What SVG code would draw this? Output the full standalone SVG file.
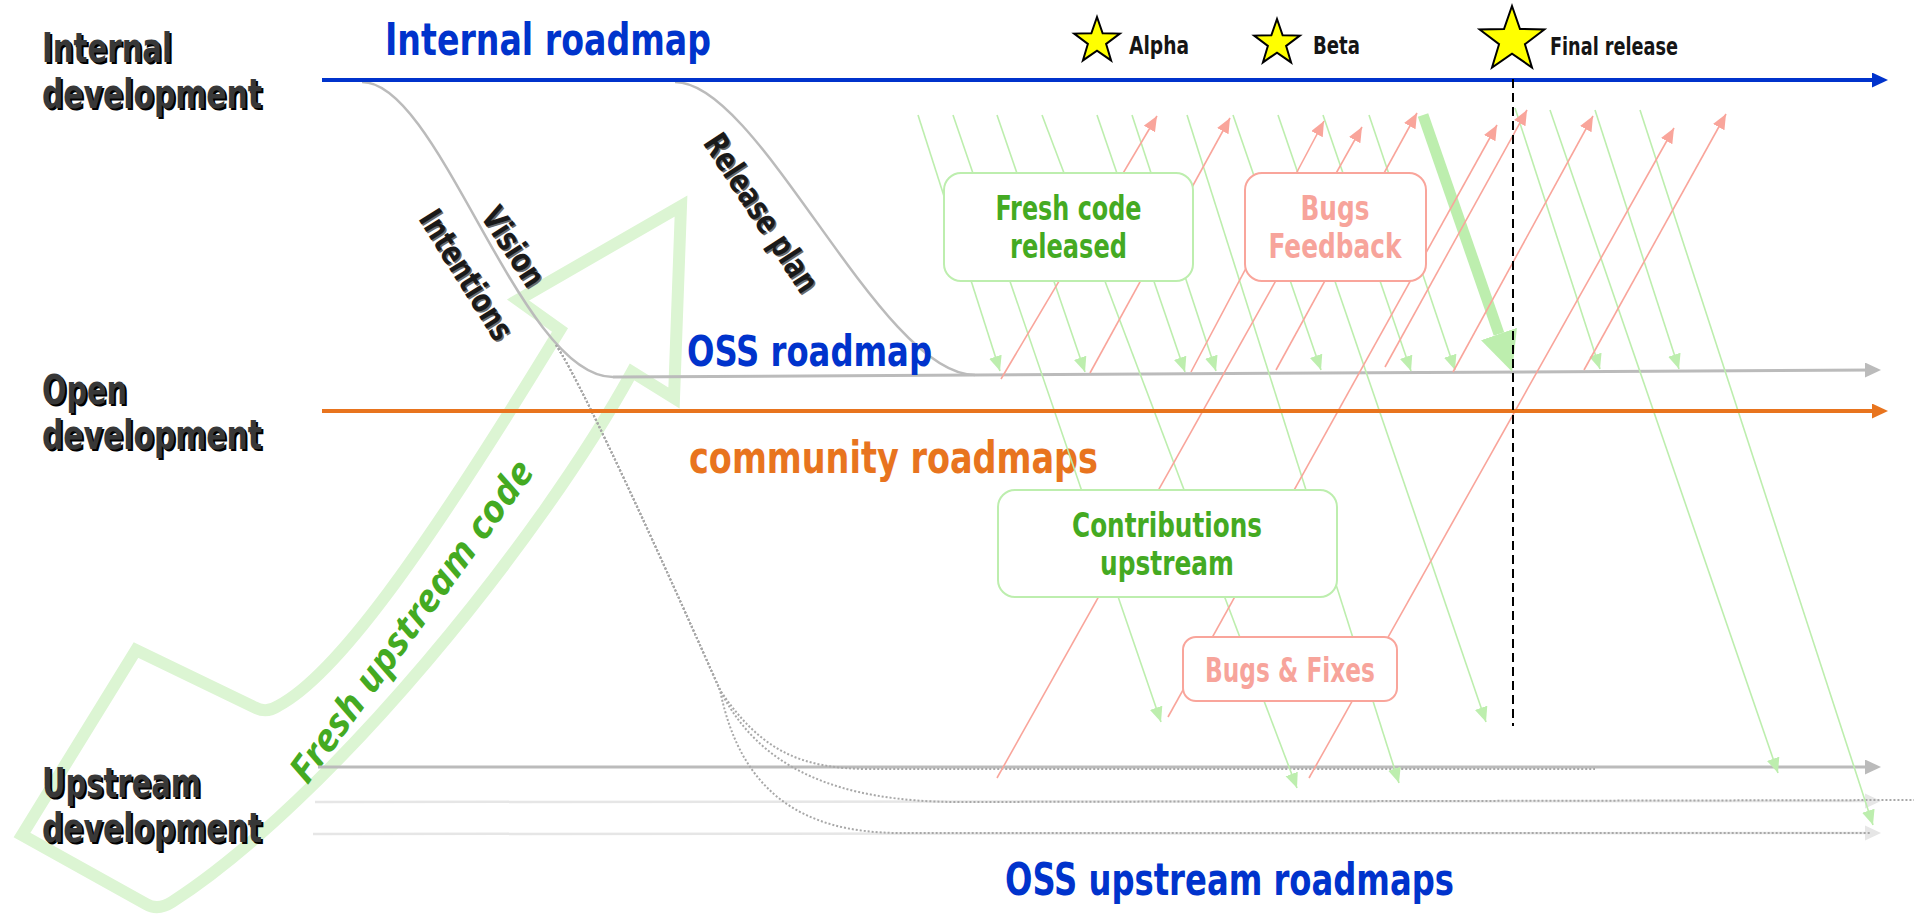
<svg xmlns="http://www.w3.org/2000/svg" xmlns:xlink="http://www.w3.org/1999/xlink" width="1914" height="921" viewBox="0 0 1914 921">
<style>
.cond{font-family:'Liberation Sans Narrow','DejaVu Sans Condensed','Roboto Condensed','Noto Sans',sans-serif;font-weight:bold;font-stretch:condensed}
.lab{font-size:40px;fill:#383838}
.labsh{font-size:40px;fill:#000}
.rot{font-size:33px;fill:#1a1a1a;text-anchor:middle}
.rotsh{font-size:33px;fill:#6a6a6a;text-anchor:middle}
.blue{fill:#0033cc}
.orange{fill:#e8741e}
.big{font-size:44px}
.slbl{font-size:24px;fill:#151515}
.boxg{fill:#fff;stroke:#bdeeae;stroke-width:2}
.boxr{fill:#fff;stroke:#f9a59b;stroke-width:2}
.tg{font-size:33px;fill:#44aa22;text-anchor:middle}
.tr{font-size:33px;fill:#f7a49b;text-anchor:middle}
.g{stroke:#bdeeae;stroke-width:1.6;fill:none}
.r{stroke:#f9a59b;stroke-width:1.6;fill:none}
.gc{stroke:#bbbbbb;stroke-width:2.5;fill:none}
.gl{stroke:#bbbbbb;stroke-width:3;fill:none}
.ll{stroke:#e6e6e6;stroke-width:2.5;fill:none}
.dot{stroke:#a8a8a8;stroke-width:2;stroke-dasharray:2 2;fill:none}
.outline{fill:none;stroke:#dcf5d3;stroke-width:12;stroke-linejoin:miter;stroke-miterlimit:10}
.fuc{font-family:'Noto Sans','Open Sans','DejaVu Sans',sans-serif;font-weight:bold;font-style:italic;font-size:37px;fill:#44aa22;text-anchor:middle}
</style>
<defs>
<path id="star" d="M0,-10 L2.351,-3.236 L9.511,-3.090 L3.804,1.236 L5.878,8.090 L0,4 L-5.878,8.090 L-3.804,1.236 L-9.511,-3.090 L-2.351,-3.236 Z" fill="#ffff00" stroke="#000" stroke-width="2" vector-effect="non-scaling-stroke" stroke-linejoin="miter"/>
<marker id="ahg" markerUnits="userSpaceOnUse" markerWidth="16" markerHeight="14" refX="15" refY="6.5" orient="auto"><path d="M0,0 L15,6.5 L0,13 Z" fill="#bdeeae"/></marker>
<marker id="ahr" markerUnits="userSpaceOnUse" markerWidth="16" markerHeight="14" refX="15" refY="6.5" orient="auto"><path d="M0,0 L15,6.5 L0,13 Z" fill="#f9a59b"/></marker>
<marker id="ahthick" markerUnits="userSpaceOnUse" markerWidth="42" markerHeight="40" refX="0" refY="19" orient="auto"><path d="M0,0 L40,19 L0,38 Z" fill="#bdeeae"/></marker>
<marker id="ahblue" markerUnits="userSpaceOnUse" markerWidth="17" markerHeight="16" refX="8" refY="7.5" orient="auto"><path d="M0,0 L16,7.5 L0,15 Z" fill="#0033cc"/></marker>
<marker id="ahorange" markerUnits="userSpaceOnUse" markerWidth="17" markerHeight="16" refX="8" refY="7.5" orient="auto"><path d="M0,0 L16,7.5 L0,15 Z" fill="#e8741e"/></marker>
<marker id="ahgray" markerUnits="userSpaceOnUse" markerWidth="17" markerHeight="16" refX="8" refY="7.5" orient="auto"><path d="M0,0 L16,7.5 L0,15 Z" fill="#bbbbbb"/></marker>
<marker id="ahlight" markerUnits="userSpaceOnUse" markerWidth="17" markerHeight="16" refX="8" refY="7.5" orient="auto"><path d="M0,0 L16,7.5 L0,15 Z" fill="#e6e6e6"/></marker>
</defs>

<rect width="1914" height="921" fill="#fff"/>

<!-- big green outline arrow -->
<g id="fresh-upstream-arrow">
<path class="outline" d="M560,330 L518,300 L681,206 L674,398 L632,372 C540,540 330,800 172,902 Q158,911 146,904 L22,835 L136,650 L254,707 Q266,714 278,706 C335,676 420,560 560,330 Z"/>
<text class="fuc" transform="translate(411,621) rotate(-54)" x="0" y="13" textLength="388" lengthAdjust="spacingAndGlyphs">Fresh upstream code</text>
</g>

<!-- lane labels -->
<g id="lane-internal" class="cond">
<text class="labsh" x="44" y="64" textLength="130" lengthAdjust="spacingAndGlyphs">Internal</text>
<text class="lab" x="42" y="62" textLength="130" lengthAdjust="spacingAndGlyphs">Internal</text>
<text class="labsh" x="44" y="110" textLength="220" lengthAdjust="spacingAndGlyphs">development</text>
<text class="lab" x="42" y="108" textLength="220" lengthAdjust="spacingAndGlyphs">development</text>
</g>
<g id="lane-open" class="cond">
<text class="labsh" x="44" y="406" textLength="85" lengthAdjust="spacingAndGlyphs">Open</text>
<text class="lab" x="42" y="404" textLength="85" lengthAdjust="spacingAndGlyphs">Open</text>
<text class="labsh" x="44" y="451" textLength="220" lengthAdjust="spacingAndGlyphs">development</text>
<text class="lab" x="42" y="449" textLength="220" lengthAdjust="spacingAndGlyphs">development</text>
</g>
<g id="lane-upstream" class="cond">
<text class="labsh" x="44" y="799" textLength="159" lengthAdjust="spacingAndGlyphs">Upstream</text>
<text class="lab" x="42" y="797" textLength="159" lengthAdjust="spacingAndGlyphs">Upstream</text>
<text class="labsh" x="44" y="844" textLength="220" lengthAdjust="spacingAndGlyphs">development</text>
<text class="lab" x="42" y="842" textLength="220" lengthAdjust="spacingAndGlyphs">development</text>
</g>

<!-- roadmap lines (under connectors) -->
<g id="roadmap-lines">
<path class="gc" d="M362,82 C440,82 520,377 613,377"/>
<path class="gc" d="M675,82 C760,82 880,375 975,375"/>
<path class="gl" d="M613,377 L1873,370" marker-end="url(#ahgray)"/>
<line class="gl" x1="318" y1="767" x2="1873" y2="767" marker-end="url(#ahgray)"/>
<line class="ll" x1="315" y1="802" x2="1873" y2="801" marker-end="url(#ahlight)"/>
<line class="ll" x1="313" y1="834" x2="1873" y2="833" marker-end="url(#ahlight)"/>
<path class="dot" d="M556,345 C586,390 680,600 720,690 C760,750 800,769 870,769 L1595,769"/>
<path class="dot" d="M556,345 C586,390 680,600 720,690 C760,770 840,802 960,802 L1914,800"/>
<path class="dot" d="M556,345 C586,390 680,600 720,690 C740,790 800,833 900,833 L1870,833"/>
</g>

<!-- rotated plan labels -->
<g id="label-intentions" class="cond">
<text class="rotsh" transform="translate(467.5,276.5) rotate(58)" x="0" y="11" textLength="147" lengthAdjust="spacingAndGlyphs">Intentions</text>
<text class="rot" transform="translate(466,275) rotate(58)" x="0" y="11" textLength="147" lengthAdjust="spacingAndGlyphs">Intentions</text>
</g>
<g id="label-vision" class="cond">
<text class="rotsh" transform="translate(514.5,248.5) rotate(57)" x="0" y="11" textLength="88" lengthAdjust="spacingAndGlyphs">Vision</text>
<text class="rot" transform="translate(513,247) rotate(57)" x="0" y="11" textLength="88" lengthAdjust="spacingAndGlyphs">Vision</text>
</g>
<g id="label-release-plan" class="cond">
<text class="rotsh" transform="translate(762.5,214.5) rotate(57)" x="0" y="11" textLength="182" lengthAdjust="spacingAndGlyphs">Release plan</text>
<text class="rot" transform="translate(761,213) rotate(57)" x="0" y="11" textLength="182" lengthAdjust="spacingAndGlyphs">Release plan</text>
</g>

<!-- titles -->
<g id="titles" class="cond">
<text class="blue big" x="385" y="55" textLength="326" lengthAdjust="spacingAndGlyphs">Internal roadmap</text>
<text class="blue" font-size="42" x="687" y="366" textLength="245" lengthAdjust="spacingAndGlyphs">OSS roadmap</text>
<text class="orange big" x="689" y="473" textLength="409" lengthAdjust="spacingAndGlyphs">community roadmaps</text>
<text class="blue big" x="1005" y="895" textLength="449" lengthAdjust="spacingAndGlyphs">OSS upstream roadmaps</text>
</g>

<!-- milestones -->
<g id="milestone-alpha" class="cond">
<use xlink:href="#star" href="#star" transform="translate(1097,41) scale(2.4)"/>
<text class="slbl" x="1129" y="54" textLength="60" lengthAdjust="spacingAndGlyphs">Alpha</text>
</g>
<g id="milestone-beta" class="cond">
<use xlink:href="#star" href="#star" transform="translate(1277,43) scale(2.4)"/>
<text class="slbl" x="1313" y="54" textLength="47" lengthAdjust="spacingAndGlyphs">Beta</text>
</g>
<g id="milestone-final" class="cond">
<use xlink:href="#star" href="#star" transform="translate(1512,40) scale(3.4)"/>
<text class="slbl" x="1550" y="55" textLength="128" lengthAdjust="spacingAndGlyphs">Final release</text>
</g>

<!-- connectors -->
<g id="connectors">
<line class="g" x1="918" y1="115" x2="1000" y2="371" marker-end="url(#ahg)"/>
<line class="g" x1="997" y1="115" x2="1085" y2="372" marker-end="url(#ahg)"/>
<line class="g" x1="1097" y1="115" x2="1185" y2="372" marker-end="url(#ahg)"/>
<line class="g" x1="1132" y1="115" x2="1216" y2="371" marker-end="url(#ahg)"/>
<line class="g" x1="1233" y1="115" x2="1321" y2="370" marker-end="url(#ahg)"/>
<line class="g" x1="1323" y1="115" x2="1411" y2="371" marker-end="url(#ahg)"/>
<line class="g" x1="1369" y1="115" x2="1455" y2="370" marker-end="url(#ahg)"/>
<line class="g" x1="1515" y1="108" x2="1600" y2="369" marker-end="url(#ahg)"/>
<line class="g" x1="1595" y1="110" x2="1679" y2="369" marker-end="url(#ahg)"/>
<line class="g" x1="953" y1="115" x2="1161" y2="722" marker-end="url(#ahg)"/>
<line class="g" x1="1042" y1="115" x2="1297" y2="788" marker-end="url(#ahg)"/>
<line class="g" x1="1187" y1="115" x2="1399" y2="783" marker-end="url(#ahg)"/>
<line class="g" x1="1278" y1="115" x2="1486" y2="722" marker-end="url(#ahg)"/>
<line class="g" x1="1550" y1="110" x2="1778" y2="773" marker-end="url(#ahg)"/>
<line class="g" x1="1640" y1="110" x2="1873" y2="825" marker-end="url(#ahg)"/>
<line x1="1423" y1="115" x2="1499" y2="334" stroke="#bdeeae" stroke-width="11" marker-end="url(#ahthick)"/>
<line class="r" x1="1001" y1="379" x2="1157" y2="116" marker-end="url(#ahr)"/>
<line class="r" x1="1090" y1="373" x2="1230" y2="118" marker-end="url(#ahr)"/>
<line class="r" x1="1191" y1="372" x2="1324" y2="121" marker-end="url(#ahr)"/>
<line class="r" x1="1276" y1="370" x2="1417" y2="113" marker-end="url(#ahr)"/>
<line class="r" x1="1385" y1="367" x2="1527" y2="110" marker-end="url(#ahr)"/>
<line class="r" x1="1453" y1="372" x2="1593" y2="116" marker-end="url(#ahr)"/>
<line class="r" x1="1584" y1="370" x2="1726" y2="114" marker-end="url(#ahr)"/>
<line class="r" x1="997" y1="778" x2="1362" y2="127" marker-end="url(#ahr)"/>
<line class="r" x1="1168" y1="717" x2="1497" y2="125" marker-end="url(#ahr)"/>
<line class="r" x1="1309" y1="778" x2="1674" y2="128" marker-end="url(#ahr)"/>
</g>

<!-- main roadmap arrows -->
<g id="main-lines">
<line x1="322" y1="80" x2="1880" y2="80" stroke="#0033cc" stroke-width="4" marker-end="url(#ahblue)"/>
<line x1="322" y1="411" x2="1880" y2="411" stroke="#e8741e" stroke-width="4" marker-end="url(#ahorange)"/>
</g>

<!-- boxes -->
<g id="box-fresh-code" class="cond">
<rect class="boxg" x="944" y="173" width="249" height="108" rx="17"/>
<text class="tg" x="1068.5" y="220" textLength="146" lengthAdjust="spacingAndGlyphs">Fresh code</text>
<text class="tg" x="1068.5" y="258" textLength="117" lengthAdjust="spacingAndGlyphs">released</text>
</g>
<g id="box-bugs-feedback" class="cond">
<rect class="boxr" x="1245" y="173" width="181" height="108" rx="17"/>
<text class="tr" x="1335" y="220" textLength="69" lengthAdjust="spacingAndGlyphs">Bugs</text>
<text class="tr" x="1335" y="258" textLength="133" lengthAdjust="spacingAndGlyphs">Feedback</text>
</g>
<g id="box-contributions" class="cond">
<rect class="boxg" x="998" y="490" width="339" height="107" rx="17"/>
<text class="tg" x="1167" y="537" textLength="190" lengthAdjust="spacingAndGlyphs">Contributions</text>
<text class="tg" x="1167" y="575" textLength="134" lengthAdjust="spacingAndGlyphs">upstream</text>
</g>
<g id="box-bugs-fixes" class="cond">
<rect class="boxr" x="1183" y="637" width="214" height="64" rx="13"/>
<text class="tr" x="1290" y="682" textLength="170" lengthAdjust="spacingAndGlyphs">Bugs &amp; Fixes</text>
</g>

<!-- final release marker line -->
<g id="final-release-line">
<line x1="1513" y1="79" x2="1513" y2="726" stroke="#000" stroke-width="2" stroke-dasharray="9 5"/>
</g>
</svg>
